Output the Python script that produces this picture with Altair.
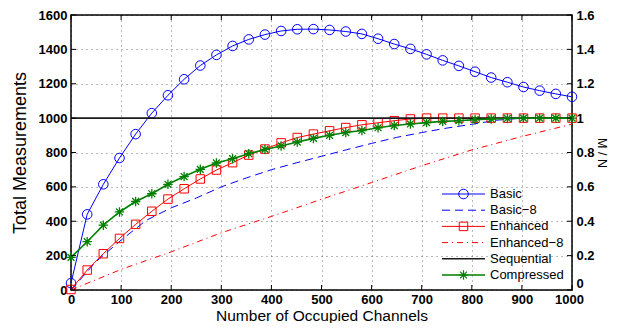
import altair as alt
import pandas as pd

# ---------------- data ----------------
X_MARK = [0, 32.3, 64.5, 96.8, 129.0, 161.3, 193.5, 225.8, 258.1, 290.3, 322.6,
          354.8, 387.1, 419.4, 451.6, 483.9, 516.1, 548.4, 580.6, 612.9, 645.2,
          677.4, 709.7, 741.9, 774.2, 806.5, 838.7, 871.0, 903.2, 935.5, 967.7, 1000]
BASIC = [40, 440, 615, 768, 907, 1029, 1133, 1226, 1306, 1368, 1420,
         1458, 1486, 1507, 1517, 1518, 1513, 1504, 1490, 1462, 1431,
         1403, 1371, 1336, 1304, 1270, 1236, 1209, 1181, 1160, 1141, 1124]
ENHANCED = [3, 116, 211, 300, 382, 458, 529, 589, 646, 698, 741,
            785, 820, 856, 887, 907, 926, 945, 961, 973, 985,
            995, 1000, 1000, 1000, 1000, 1000, 1000, 1000, 1000, 1000, 1000]
COMPRESSED = [190, 281, 377, 454, 515, 560, 615, 660, 702, 739, 764,
              793, 818, 838, 861, 882, 900, 916, 928, 944, 957,
              966, 974, 981, 985, 991, 995, 998, 1000, 1000, 1000, 1000]
X_B8 = [0, 50, 100, 150, 200, 250, 300, 350, 400, 450, 500,
        550, 600, 650, 700, 750, 800, 850, 900, 950, 1000]
BASIC_8 = [0, 165, 290, 405, 478, 535, 600, 652, 700, 740, 778,
           816, 853, 888, 916, 942, 964, 988, 1000, 1000, 1000]
X_E8 = [0, 100, 200, 300, 400, 500, 600, 700, 800, 900, 1000]
ENHANCED_8 = [0, 120, 222, 333, 428, 528, 625, 723, 815, 893, 965]
X_SEQ = [0, 1000]
SEQUENTIAL = [1000, 1000]

X_TICKS = [0, 100, 200, 300, 400, 500, 600, 700, 800, 900, 1000]
Y_TICKS = [0, 200, 400, 600, 800, 1000, 1200, 1400, 1600]
R_TICKS = [0, 0.2, 0.4, 0.6, 0.8, 1.0, 1.2, 1.4, 1.6]
LEGEND_LABELS = ["Basic", "Basic\u22128", "Enhanced", "Enhanced\u22128", "Sequential", "Compressed"]

# ---------------- style ----------------
W, H = 501, 275
FONT = "Liberation Sans"
BLUE, RED, GREEN, BLACK = "#0000ff", "#ff0000", "#008000", "#1a1a1a"
STAR = "M0,-1L0,1M-1,0L1,0M-0.72,-0.72L0.72,0.72M-0.72,0.72L0.72,-0.72"

xs = alt.Scale(domain=[0, 1000], nice=False, zero=False)
ys = alt.Scale(domain=[0, 1600], nice=False, zero=False)

X_AXIS = alt.Axis(
    values=X_TICKS, format="d", grid=True, ticks=False, domain=False,
    labelFlush=False, labelPadding=3, labelFontSize=13, labelFontWeight="bold",
    labelOffset={"condition": {"test": "datum.value == 1000", "value": -3}, "value": 0},
    title="Number of Occupied Channels", titleFontSize=15.5, titlePadding=2)
Y_AXIS = alt.Axis(
    values=Y_TICKS, format="d", grid=True, ticks=False, domain=False,
    labelFlush=False, labelPadding=4, labelFontSize=13, labelFontWeight="bold",
    title="Total Measurements", titleFontSize=18, titlePadding=9)


def df(x, y):
    return pd.DataFrame({"x": x, "y": y})


def enc():
    return dict(
        x=alt.X("x:Q", scale=xs, axis=X_AXIS),
        y=alt.Y("y:Q", scale=ys, axis=Y_AXIS),
    )


basic_line = alt.Chart(df(X_MARK, BASIC)).mark_line(color=BLUE, strokeWidth=1).encode(**enc())
basic_pts = alt.Chart(df(X_MARK, BASIC)).mark_point(
    shape="circle", filled=False, size=92, color=BLUE, strokeWidth=1, opacity=1).encode(**enc())
basic8 = alt.Chart(df(X_B8, BASIC_8)).mark_line(
    color=BLUE, strokeWidth=1, strokeDash=[8, 5]).encode(**enc())
enh_line = alt.Chart(df(X_MARK, ENHANCED)).mark_line(color=RED, strokeWidth=1).encode(**enc())
enh_pts = alt.Chart(df(X_MARK, ENHANCED)).mark_point(
    shape="square", filled=False, size=72, color=RED, strokeWidth=1, opacity=1).encode(**enc())
enh8 = alt.Chart(df(X_E8, ENHANCED_8)).mark_line(
    color=RED, strokeWidth=1, strokeDash=[6, 4, 1, 4]).encode(**enc())
seq = alt.Chart(df(X_SEQ, SEQUENTIAL)).mark_line(color=BLACK, strokeWidth=1.6).encode(**enc())
comp_line = alt.Chart(df(X_MARK, COMPRESSED)).mark_line(color=GREEN, strokeWidth=1.6).encode(**enc())
comp_pts = alt.Chart(df(X_MARK, COMPRESSED)).mark_point(
    shape=STAR, filled=False, size=90, color=GREEN, strokeWidth=1.3, opacity=1).encode(**enc())

# inward tick marks
xt = pd.DataFrame({"x": X_TICKS})
yt = pd.DataFrame({"y": Y_TICKS})
tick_b = alt.Chart(xt).mark_rule(color="black", strokeWidth=1).encode(
    x=alt.X("x:Q", scale=xs, axis=X_AXIS), y=alt.value(H), y2=alt.value(H - 5))
tick_t = alt.Chart(xt).mark_rule(color="black", strokeWidth=1).encode(
    x=alt.X("x:Q", scale=xs, axis=X_AXIS), y=alt.value(0), y2=alt.value(5))
tick_l = alt.Chart(yt).mark_rule(color="black", strokeWidth=1).encode(
    y=alt.Y("y:Q", scale=ys, axis=Y_AXIS), x=alt.value(0), x2=alt.value(5))
tick_r = alt.Chart(yt).mark_rule(color="black", strokeWidth=1).encode(
    y=alt.Y("y:Q", scale=ys, axis=Y_AXIS), x=alt.value(W), x2=alt.value(W - 5))

# legend (drawn by hand to show line + marker)
LEG_X0, LEG_X1, LEG_MX, LEG_TX, LEG_Y0, LEG_DY = 371, 414, 392.5, 419, 179, 16.2
leg_styles = [
    dict(color=BLUE, dash=[1, 0], shape="circle", size=92, sw=1),
    dict(color=BLUE, dash=[8, 5], shape=None, size=0, sw=1),
    dict(color=RED, dash=[1, 0], shape="square", size=72, sw=1),
    dict(color=RED, dash=[6, 4, 1, 4], shape=None, size=0, sw=1),
    dict(color=BLACK, dash=[1, 0], shape=None, size=0, sw=1.6),
    dict(color=GREEN, dash=[1, 0], shape=STAR, size=90, sw=1.6),
]
legend_layers = []
for i, (lab, st) in enumerate(zip(LEGEND_LABELS, leg_styles)):
    ld = pd.DataFrame({"label": [lab], "ly": [LEG_Y0 + LEG_DY * i]})
    base = alt.Chart(ld)
    legend_layers.append(base.mark_rule(color=st["color"], strokeWidth=st["sw"],
                                        strokeDash=st["dash"]).encode(
        x=alt.value(LEG_X0), x2=alt.value(LEG_X1), y=alt.Y("ly:Q", scale=None)))
    if st["shape"]:
        legend_layers.append(base.mark_point(shape=st["shape"], filled=False, size=st["size"],
                                             color=st["color"], strokeWidth=1.2 if st["shape"] == STAR else 1,
                                             opacity=1).encode(
            x=alt.value(LEG_MX), y=alt.Y("ly:Q", scale=None)))
    legend_layers.append(base.mark_text(align="left", baseline="middle", font=FONT,
                                        fontSize=13, color="black").encode(
        x=alt.value(LEG_TX), y=alt.Y("ly:Q", scale=None), text="label:N"))

left = alt.layer(basic_line, basic_pts, basic8, enh_line, enh_pts, enh8,
                 seq, comp_line, comp_pts, tick_b, tick_t, tick_l, tick_r, *legend_layers)

right = alt.Chart(pd.DataFrame({"r": R_TICKS})).mark_point(opacity=0).encode(
    y=alt.Y("r:Q", scale=alt.Scale(domain=[0, 1.6], nice=False, zero=False), axis=alt.Axis(
        orient="right", values=R_TICKS, format=".1~f", grid=False, ticks=False, domain=False,
        labelPadding=4, labelFontSize=13, labelFontWeight="bold",
        labelOffset={"condition": {"test": "datum.value == 0", "value": -7}, "value": 0},
        title="M / N", titleFontSize=12.5, titlePadding=0)),
)

chart = alt.layer(left, right).resolve_scale(y="independent").properties(
    width=W, height=H,
    autosize=alt.AutoSizeParams(type="none"),
    padding={"left": 63, "top": 7, "right": 38, "bottom": 33},
    background="white",
).configure_view(
    stroke="black", strokeWidth=1.5
).configure_axis(
    labelFont=FONT, titleFont=FONT, labelColor="black", titleColor="black",
    titleFontWeight="normal", gridColor="#000000", gridOpacity=0.55,
    gridDash=[1, 4], gridWidth=1,
)

chart.save("out.html", embed_options={"renderer": "svg", "actions": False})
